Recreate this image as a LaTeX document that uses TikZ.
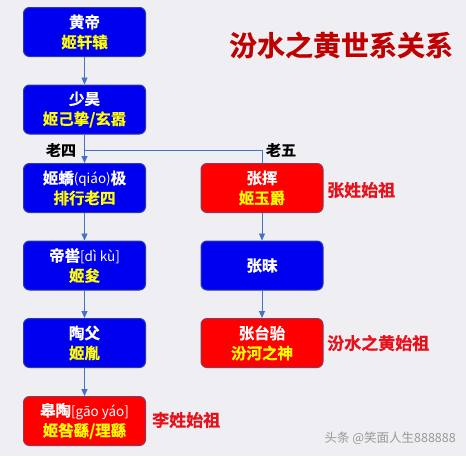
\documentclass[tikz,border=0pt]{standalone}
\usepackage{fontspec}
\setmainfont{Noto Sans CJK SC}[BoldFont={Noto Sans CJK SC Bold},BoldFeatures={FakeBold=0.6}]
\usetikzlibrary{arrows.meta}
\definecolor{bg}{HTML}{EEEEF3}
\definecolor{boxblue}{HTML}{0000F0}
\definecolor{borderblue}{HTML}{2E3A9E}
\definecolor{boxred}{HTML}{FF0000}
\definecolor{borderred}{HTML}{8B3A5E}
\definecolor{txtyellow}{HTML}{FFFF00}
\definecolor{linecol}{HTML}{4472C4}
\definecolor{titlered}{HTML}{C00000}
\definecolor{labelred}{HTML}{E8101A}
\tikzset{
  box/.style={rounded corners=6pt, minimum width=122pt, minimum height=49pt, line width=1pt, align=center, inner sep=2pt, text=white, font=\bfseries\fontsize{15.5}{20}\selectfont},
  bluebox/.style={box, fill=boxblue, draw=borderblue},
  redbox/.style={box, fill=boxred, draw=borderred},
  conn/.style={draw=linecol, line width=0.9pt},
  arr/.style={conn, -{Triangle[length=7pt,width=6pt]}},
  gen/.style={font=\bfseries\fontsize{15}{18}\selectfont, text=black, inner sep=0pt},
  side/.style={font=\bfseries\fontsize{17}{20}\selectfont, text=labelred, anchor=west, inner sep=0pt},
}
\newcommand{\yl}[1]{\textcolor{txtyellow}{#1}}
\newcommand{\py}[1]{{\mdseries\fontsize{13.5}{16}\selectfont #1}}
\begin{document}
\begin{tikzpicture}[x=1pt,y=-1pt]
\fill[bg] (0,0) rectangle (466,456);
\useasboundingbox (0,0) rectangle (466,456);
\node[bluebox] (b1) at (84.5,32) {黄帝\\\yl{姬轩辕}};
\node[bluebox] (b2) at (84.5,109.5) {少昊\\\yl{姬己挚/玄嚣}};
\node[bluebox] (b3) at (84.5,188) {姬蟜\py{(qiáo)}极\\\yl{排行老四}};
\node[bluebox] (b4) at (84.5,265.5) {帝喾\py{[dì kù]}\\\yl{姬夋}};
\node[bluebox] (b5) at (84.5,343) {陶父\\\yl{姬胤}};
\node[redbox] (b6) at (84.5,421) {皋陶\py{[gāo yáo]}\\\yl{姬咎繇/理繇}};
\node[redbox] (r1) at (262,188) {张挥\\\yl{姬玉爵}};
\node[bluebox] (r2) at (262,265.5) {张昧};
\node[redbox] (r3) at (262,343) {张台骀\\\yl{汾河之神}};
\coordinate (j) at (84.5,150);
\draw[arr] (b1) -- (b2);
\draw[arr] (b2) -- (b3);
\draw[conn] (j) -| (r1.north);
\draw[arr] (b3) -- (b4);
\draw[arr] (b4) -- (b5);
\draw[arr] (b5) -- (b6);
\draw[arr] (r1) -- (r2);
\draw[arr] (r2) -- (r3);
\node[gen] (l4) at (61,150) {老四};
\node[gen] (l5) at (281,150) {老五};
\node[font=\bfseries\fontsize{28}{32}\selectfont, text=titlered] (title) at (341,45) {汾水之黄世系关系};
\node[side] (s1) at (327,190) {张姓始祖};
\node[side] (s2) at (327,343) {汾水之黄始祖};
\node[side] (s3) at (152,420) {李姓始祖};
\node[font=\fontsize{12.5}{14}\selectfont, text=gray!80, anchor=east, inner sep=0pt] (wm) at (456,438) {头条 @笑面人生888888};
\end{tikzpicture}
\end{document}
